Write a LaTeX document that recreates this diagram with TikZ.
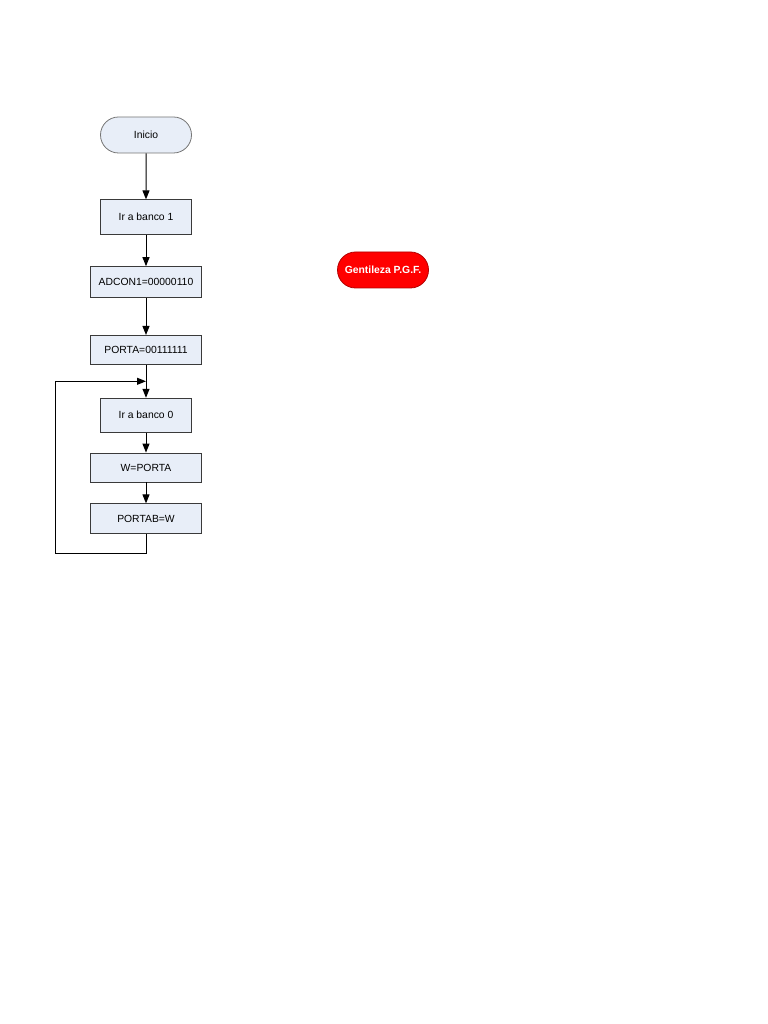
\documentclass[tikz,border=0pt]{standalone}
\usepackage{fontspec}
\setmainfont{Liberation Sans}
\usepackage{xcolor}
\usepackage{tikz}
\usetikzlibrary{positioning,arrows.meta,shapes.misc,calc}

\definecolor{boxfill}{HTML}{E8EEF8}
\definecolor{boxline}{HTML}{3A3A3A}

\begin{document}
\begin{tikzpicture}[
    x=1bp, y=1bp,
    node distance=30bp,
    stepbox/.style={rectangle, draw=boxline, line width=0.8bp, fill=boxfill, minimum width=#1, inner sep=0pt, font=\fontsize{10.4}{12}\selectfont},
    stepbox/.default=91bp,
    terminal/.style={rounded rectangle, draw=boxline!70, line width=0.8bp, fill=#1, minimum width=91bp, minimum height=36bp, inner sep=0pt, font=\fontsize{10.4}{12}\selectfont},
    arrow/.style={-{Triangle[length=9bp, width=7bp]}, line width=1bp, draw=black},
]
\useasboundingbox (0,0) rectangle (768,1024);

\node[terminal=boxfill] (inicio) at (146,889) {Inicio};
\node[stepbox, minimum height=35bp, below=46bp of inicio] (banco1) {Ir a banco 1};
\node[stepbox=111bp, minimum height=31bp, below=31bp of banco1] (adcon) {ADCON1=00000110};
\node[stepbox=111bp, minimum height=29bp, below=37bp of adcon] (porta) {PORTA=00111111};
\node[stepbox, minimum height=34bp, below=33bp of porta] (banco0) {Ir a banco 0};
\node[stepbox=111bp, minimum height=29bp, below=20bp of banco0] (wporta) {W=PORTA};
\node[stepbox=111bp, minimum height=30bp, below=21bp of wporta] (portab) {PORTAB=W};

% nota al margen
\node[terminal=red, draw=red!70!black, text=white, font=\fontsize{10.4}{12}\selectfont\bfseries] (nota) at (383,754) {Gentileza P.G.F.};

% bucle
\coordinate (loopin) at ($(porta.south)!0.5!(banco0.north)$);
\coordinate (loopbl) at (55,470);

\draw[arrow] (inicio) -- (banco1);
\draw[arrow] (banco1) -- (adcon);
\draw[arrow] (adcon) -- (porta);
\draw[arrow] (porta) -- (banco0);
\draw[arrow] (banco0) -- (wporta);
\draw[arrow] (wporta) -- (portab);
\draw[arrow] (portab.south) |- (loopbl) |- (loopin);
\end{tikzpicture}
\end{document}
